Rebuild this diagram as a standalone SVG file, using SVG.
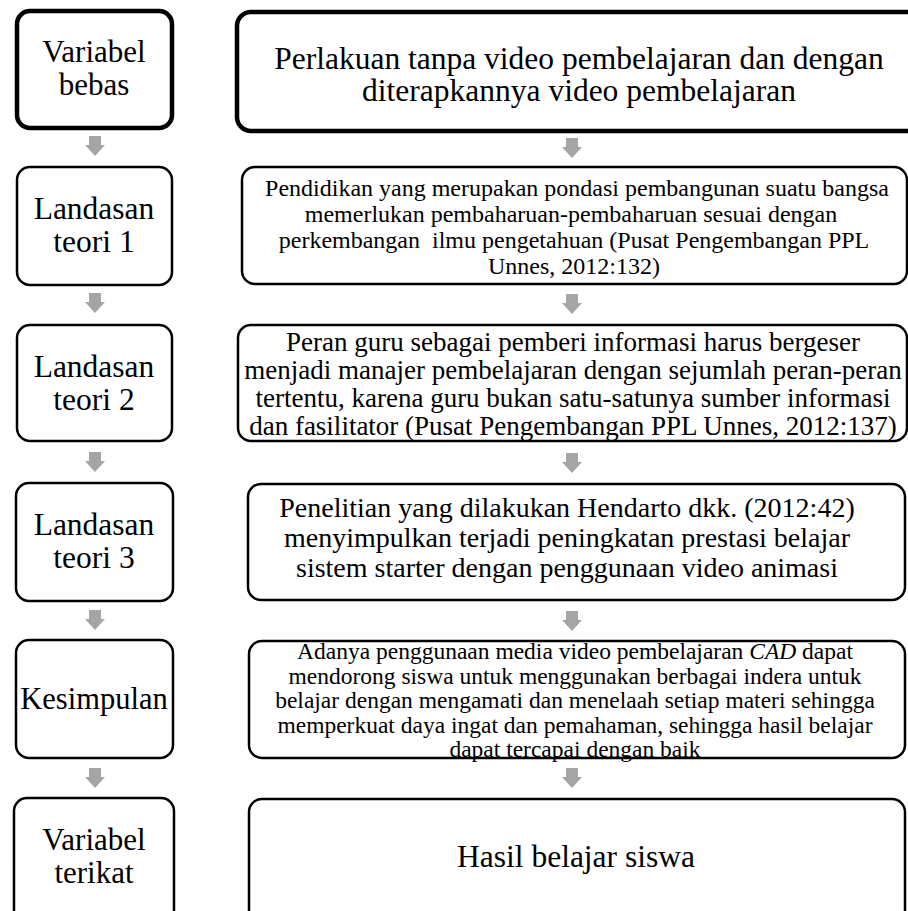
<svg xmlns="http://www.w3.org/2000/svg" width="908" height="911" viewBox="0 0 908 911">
<defs>
<style>
.box{fill:#fff;stroke:#000;stroke-width:2.5}
.thick{stroke-width:4.5}
.t{font-family:"Liberation Serif","Times New Roman",serif;fill:#000;text-anchor:middle}
.arr{fill:#a5a5a5}
</style>
</defs>
<rect width="908" height="911" fill="#fff"/>
<g id="connectors">
<path class="arr" d="M89,136h12v9h4l-10,11l-10,-11h4z"/>
<path class="arr" d="M89,293h12v9h4l-10,11l-10,-11h4z"/>
<path class="arr" d="M89,452h12v9h4l-10,11l-10,-11h4z"/>
<path class="arr" d="M89,610h12v9h4l-10,11l-10,-11h4z"/>
<path class="arr" d="M89,768h12v9h4l-10,11l-10,-11h4z"/>
<path class="arr" d="M566,138h12v9h4l-10,11l-10,-11h4z"/>
<path class="arr" d="M566,294h12v9h4l-10,11l-10,-11h4z"/>
<path class="arr" d="M566,453h12v9h4l-10,11l-10,-11h4z"/>
<path class="arr" d="M566,611h12v9h4l-10,11l-10,-11h4z"/>
<path class="arr" d="M566,768h12v9h4l-10,11l-10,-11h4z"/>
</g>
<g id="n-variabel-bebas">
<rect class="box thick" x="17" y="11" width="155" height="117" rx="13"/>
<text class="t" font-size="31" x="94" y="62">Variabel</text>
<text class="t" font-size="31" x="94" y="95">bebas</text>
</g>
<g id="n-landasan-1">
<rect class="box" x="17" y="167" width="155" height="118" rx="13"/>
<text class="t" font-size="31.5" x="94" y="219">Landasan</text>
<text class="t" font-size="31.5" x="94" y="252">teori 1</text>
</g>
<g id="n-landasan-2">
<rect class="box" x="17" y="325" width="155" height="116" rx="13"/>
<text class="t" font-size="31.5" x="94" y="377">Landasan</text>
<text class="t" font-size="31.5" x="94" y="410">teori 2</text>
</g>
<g id="n-landasan-3">
<rect class="box" x="16" y="483" width="157" height="118" rx="13"/>
<text class="t" font-size="31.5" x="94" y="535">Landasan</text>
<text class="t" font-size="31.5" x="94" y="568">teori 3</text>
</g>
<g id="n-kesimpulan">
<rect class="box" x="16" y="640" width="157" height="118" rx="13"/>
<text class="t" font-size="30.5" x="94" y="709">Kesimpulan</text>
</g>
<g id="n-variabel-terikat">
<rect class="box" x="14" y="798" width="160" height="130" rx="13"/>
<text class="t" font-size="31" x="94" y="850">Variabel</text>
<text class="t" font-size="31" x="94" y="883">terikat</text>
</g>
<g id="n-perlakuan">
<rect class="box thick" x="237" y="12" width="690" height="119" rx="14"/>
<text class="t" font-size="31.5" x="579" y="69">Perlakuan tanpa video pembelajaran dan dengan</text>
<text class="t" font-size="31.5" x="579" y="101">diterapkannya video pembelajaran</text>
</g>
<g id="n-teori-1">
<rect class="box" x="242" y="167" width="665" height="117" rx="13"/>
<text class="t" font-size="24" x="577" y="196">Pendidikan yang merupakan pondasi pembangunan suatu bangsa</text>
<text class="t" font-size="24" x="571" y="222">memerlukan pembaharuan-pembaharuan sesuai dengan</text>
<text class="t" font-size="24" x="574" y="248">perkembangan&#160; ilmu pengetahuan (Pusat Pengembangan PPL</text>
<text class="t" font-size="24" x="574" y="274">Unnes, 2012:132)</text>
</g>
<g id="n-teori-2">
<rect class="box" x="238" y="325" width="669" height="116" rx="13"/>
<text class="t" font-size="27" x="573" y="351">Peran guru sebagai pemberi informasi harus bergeser</text>
<text class="t" font-size="27" x="573" y="379">menjadi manajer pembelajaran dengan sejumlah peran-peran</text>
<text class="t" font-size="27" x="573" y="407">tertentu, karena guru bukan satu-satunya sumber informasi</text>
<text class="t" font-size="27" x="573" y="435">dan fasilitator (Pusat Pengembangan PPL Unnes, 2012:137)</text>
</g>
<g id="n-teori-3">
<rect class="box" x="248" y="484" width="657" height="116" rx="13"/>
<text class="t" font-size="28" x="567" y="517">Penelitian yang dilakukan Hendarto dkk. (2012:42)</text>
<text class="t" font-size="28" x="567" y="547">menyimpulkan terjadi peningkatan prestasi belajar</text>
<text class="t" font-size="28" x="567" y="577">sistem starter dengan penggunaan video animasi</text>
</g>
<g id="n-kesimpulan-isi">
<rect class="box" x="249" y="641" width="656" height="117" rx="13"/>
<text class="t" font-size="23.5" x="575" y="659">Adanya penggunaan media video pembelajaran <tspan font-style="italic">CAD</tspan> dapat</text>
<text class="t" font-size="23.5" x="575" y="683.5">mendorong siswa untuk menggunakan berbagai indera untuk</text>
<text class="t" font-size="23.5" x="575" y="708">belajar dengan mengamati dan menelaah setiap materi sehingga</text>
<text class="t" font-size="23.5" x="575" y="732.5">memperkuat daya ingat dan pemahaman, sehingga hasil belajar</text>
<text class="t" font-size="23.5" x="575" y="757">dapat tercapai dengan baik</text>
</g>
<g id="n-hasil">
<rect class="box" x="249" y="799" width="656" height="130" rx="13"/>
<text class="t" font-size="31.5" x="576" y="867">Hasil belajar siswa</text>
</g>
</svg>
